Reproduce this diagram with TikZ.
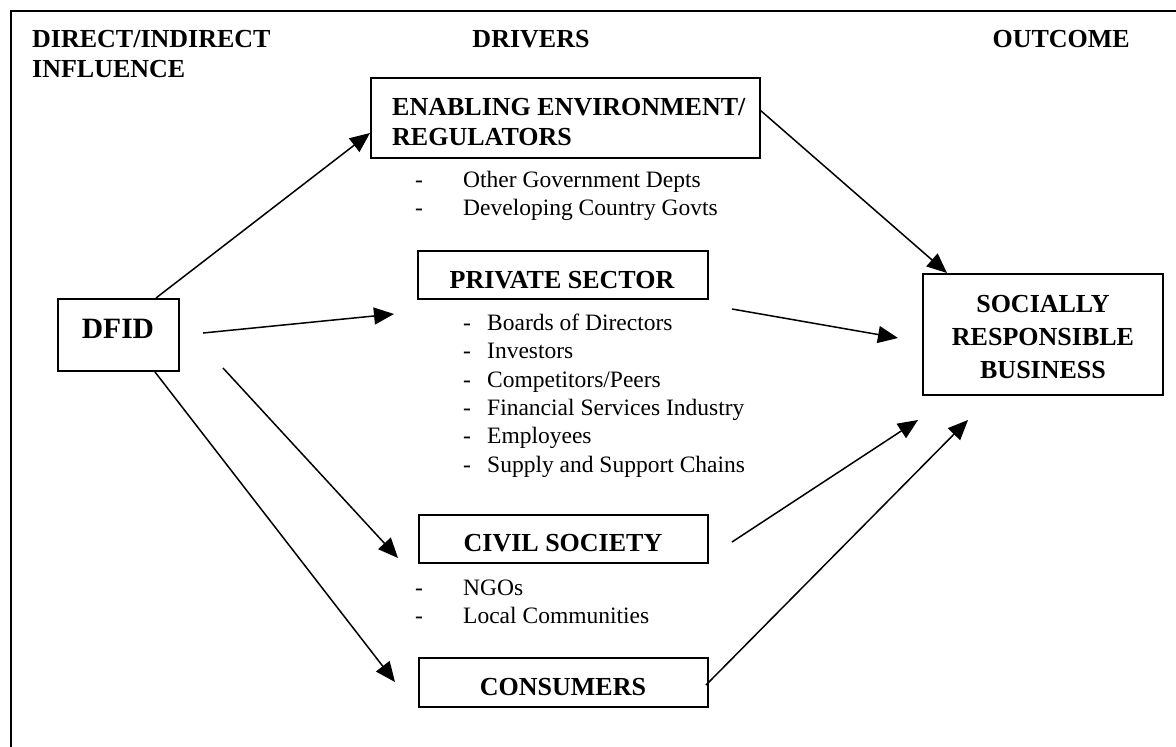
\documentclass[tikz,border=0pt]{standalone}
\usepackage{fontspec}
\setmainfont{Liberation Serif}
\usetikzlibrary{arrows.meta}
\begin{document}
\begin{tikzpicture}[x=1pt,y=-1pt,
  box/.style={draw, line width=1.5pt, inner sep=0pt},
  head/.style={font=\fontsize{26}{32}\selectfont\bfseries, inner sep=0pt, anchor=base},
  item/.style={font=\fontsize{23.5}{28}\selectfont, inner sep=0pt, anchor=base west},
  link/.style={line width=1.5pt, -{Triangle[length=20pt,width=17pt]}}]
\useasboundingbox (0,0) rectangle (1176,747);

% outer frame (top and left rules)
\coordinate (frameBL) at (11,747);
\coordinate (frameTL) at (11,11);
\coordinate (frameTR) at (1176,11);
\draw[line width=2pt] (frameBL) -- (frameTL) -- (frameTR);

% column headings
\node[head, anchor=base west] (hdInfl1) at (32,47) {DIRECT/INDIRECT};
\node[head, anchor=base west] (hdInfl2) at (32,77) {INFLUENCE};
\node[head] (hdDrivers) at (531,47) {DRIVERS};
\node[head, anchor=base east] (hdOutcome) at (1130,47) {OUTCOME};

% boxes
\node[box, minimum width=121pt, minimum height=72pt] (dfid) at (118.5,335) {};
\node[box, minimum width=389pt, minimum height=80pt] (enab) at (565.5,118) {};
\node[box, minimum width=290pt, minimum height=48pt] (priv) at (563,275) {};
\node[box, minimum width=289pt, minimum height=48pt] (civil) at (563.5,539) {};
\node[box, minimum width=289pt, minimum height=49pt] (cons) at (563.5,682.5) {};
\node[box, minimum width=240pt, minimum height=121pt] (srb) at (1043,334.5) {};

% box titles
\node[head, font=\fontsize{29.5}{34}\selectfont\bfseries] (dfidT) at (118,338) {DFID};
\node[head, anchor=base west] (enabT1) at (392,115) {ENABLING ENVIRONMENT/};
\node[head, anchor=base west] (enabT2) at (392,145) {REGULATORS};
\node[head] (privT) at (562,288) {PRIVATE SECTOR};
\node[head] (civilT) at (563,551) {CIVIL SOCIETY};
\node[head] (consT) at (563,695) {CONSUMERS};
\node[head] (srbT1) at (1043,312) {SOCIALLY};
\node[head] (srbT2) at (1043,345) {RESPONSIBLE};
\node[head] (srbT3) at (1043,378) {BUSINESS};

% regulators list
\node[item] (eD1) at (415,187) {-};
\node[item] (eI1) at (463,187) {Other Government Depts};
\node[item] (eD2) at (415,215) {-};
\node[item] (eI2) at (463,215) {Developing Country Govts};

% private sector list
\node[item] (pD1) at (463,330) {-};
\node[item] (pI1) at (487,330) {Boards of Directors};
\node[item] (pD2) at (463,358) {-};
\node[item] (pI2) at (487,358) {Investors};
\node[item] (pD3) at (463,387) {-};
\node[item] (pI3) at (487,387) {Competitors/Peers};
\node[item] (pD4) at (463,415) {-};
\node[item] (pI4) at (487,415) {Financial Services Industry};
\node[item] (pD5) at (463,443) {-};
\node[item] (pI5) at (487,443) {Employees};
\node[item] (pD6) at (463,472) {-};
\node[item] (pI6) at (487,472) {Supply and Support Chains};

% civil society list
\node[item] (cD1) at (415,595) {-};
\node[item] (cI1) at (463,595) {NGOs};
\node[item] (cD2) at (415,623) {-};
\node[item] (cI2) at (463,623) {Local Communities};

% connector end points
\coordinate (dfidToEnabS) at (156,298);
\coordinate (dfidToEnabE) at (370,133);
\coordinate (dfidToPrivS) at (203,333);
\coordinate (dfidToPrivE) at (394,314);
\coordinate (dfidToCivS) at (223,368);
\coordinate (dfidToCivE) at (398,558);
\coordinate (dfidToConsS) at (155,372);
\coordinate (dfidToConsE) at (395,682);
\coordinate (enabToSrbS) at (760,110);
\coordinate (enabToSrbE) at (947,273);
\coordinate (privToSrbS) at (732,309);
\coordinate (privToSrbE) at (898,338);
\coordinate (civToSrbS) at (732,542);
\coordinate (civToSrbE) at (918,420);
\coordinate (consToSrbS) at (706,685);
\coordinate (consToSrbE) at (968,420);

% connectors
\draw[link] (dfidToEnabS) -- (dfidToEnabE);
\draw[link] (dfidToPrivS) -- (dfidToPrivE);
\draw[link] (dfidToCivS) -- (dfidToCivE);
\draw[link] (dfidToConsS) -- (dfidToConsE);
\draw[link] (enabToSrbS) -- (enabToSrbE);
\draw[link] (privToSrbS) -- (privToSrbE);
\draw[link] (civToSrbS) -- (civToSrbE);
\draw[link] (consToSrbS) -- (consToSrbE);
\end{tikzpicture}
\end{document}
